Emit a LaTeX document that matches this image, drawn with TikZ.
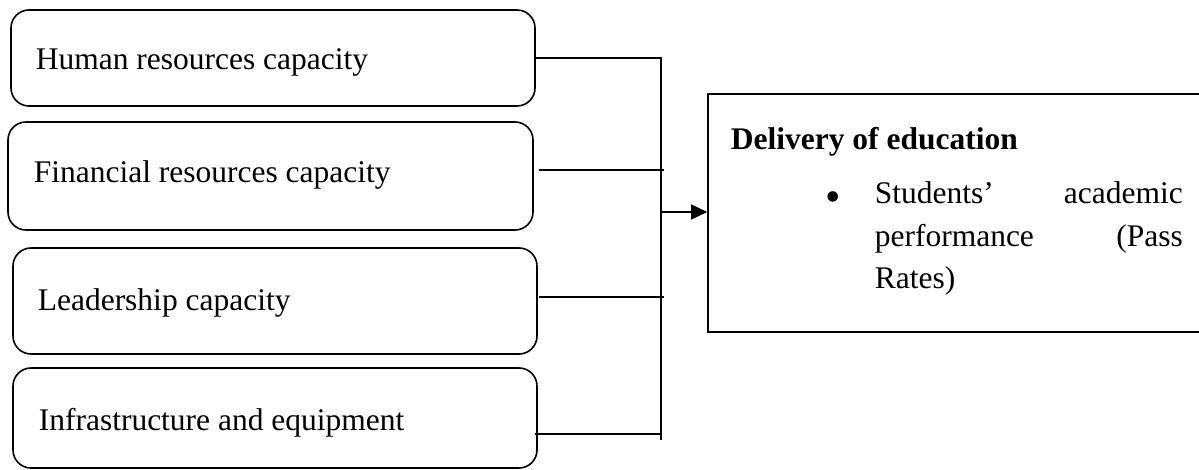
\documentclass[tikz,border=0pt]{standalone}
\usepackage{fontspec}
\setmainfont{Liberation Serif}
\usetikzlibrary{arrows.meta}
\begin{document}
\begin{tikzpicture}[x=1pt,y=-1pt,
  line width=1.6pt,
  inbox/.style={draw, rounded corners=18pt, inner sep=0pt},
  outbox/.style={draw, inner sep=0pt},
  lbl/.style={inner sep=0pt, anchor=base west, font=\fontsize{31.5}{43}\selectfont},
  conn/.style={draw, line width=1.6pt},
  arr/.style={-{Triangle[length=16pt,width=15pt]}, line width=1.6pt}]
\useasboundingbox (0,0) rectangle (1199,470);
% input boxes
\node[inbox, minimum width=524pt, minimum height=96pt] (b1) at (273,58) {};
\node[inbox, minimum width=525pt, minimum height=108pt] (b2) at (270.5,176) {};
\node[inbox, minimum width=524pt, minimum height=106pt] (b3) at (275,301) {};
\node[inbox, minimum width=524pt, minimum height=100pt] (b4) at (275,418) {};
\node[lbl] (t1) at (35,70) {Human resources capacity};
\node[lbl] (t2) at (33,183) {Financial resources capacity};
\node[lbl] (t3) at (37,310) {Leadership capacity};
\node[lbl] (t4) at (38,430) {Infrastructure and equipment};
% output box
\node[outbox, minimum width=492pt, minimum height=238pt] (rb) at (954,213) {};
\node[lbl, font=\fontsize{31.5}{43}\selectfont\bfseries] (rt) at (730,150) {Delivery of education};
\node[lbl, anchor=base, font=\fontsize{44}{44}\selectfont] (bul) at (833,212) {\textbullet};
\node[lbl] (r1) at (874,204) {\makebox[308pt][s]{Students’\hfill academic}};
\node[lbl] (r2) at (874,247) {\makebox[308pt][s]{performance\hfill (Pass}};
\node[lbl] (r3) at (874,289) {Rates)};
% connectors
\coordinate (tt) at (661,58);
\coordinate (tb) at (661,440);
\coordinate (s2) at (539,170);
\coordinate (e2) at (664,170);
\coordinate (s3) at (539,297);
\coordinate (e3) at (664,297);
\coordinate (s4) at (535,434);
\coordinate (e4) at (661,434);
\coordinate (ta) at (661,212);
\draw[conn] (b1.east) -- (tt) -- (tb);
\draw[conn] (s2) -- (e2);
\draw[conn] (s3) -- (e3);
\draw[conn] (s4) -- (e4);
\draw[arr] (ta) -- (rb.west |- ta);
\end{tikzpicture}
\end{document}
